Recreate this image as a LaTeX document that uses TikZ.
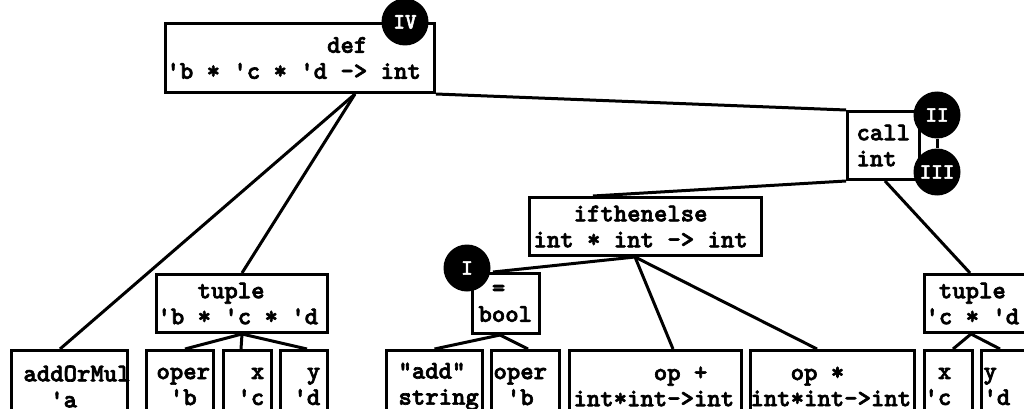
\documentclass[tikz,border=0pt]{standalone}
\usepackage{fontspec}
\usepackage{tikz}
\usetikzlibrary{calc}
\newfontfamily\codefont{lmmonolt10-bold}[Extension=.otf, BoldFont=lmmonolt10-bold, BoldFeatures={FakeBold=2.5}]
\newcommand{\sk}[1]{\hspace*{#1\fontdimen2\font}}
\newcommand{\q}{\textquotesingle}
\newcommand{\monosp}{\spaceskip=\fontdimen2\font\relax}
\tikzstyle{tbox} = [rectangle, draw=black, line width=3pt, anchor=north west, align=flush left, inner ysep=0pt, font=\codefont\bfseries\fontsize{25.5}{26}\selectfont, execute at begin node=\monosp]
\tikzstyle{numdot} = [circle, fill=black, text=white, minimum size=47pt, inner sep=0pt, font=\codefont\bfseries\fontsize{22}{24}\selectfont]
\tikzstyle{link} = [line width=3pt]

\begin{document}
\begin{tikzpicture}[x=1pt, y=-1pt]
	\useasboundingbox (0,0) rectangle (1024,409);
	% upper levels
	\node (def) [tbox, text width=267pt, inner xsep=1pt, minimum height=69pt] at (164,22) {\sk{12}def\\\q b * \q c * \q d -> int};
	\node (call) [tbox, text width=54pt, inner xsep=9pt, minimum height=68pt] at (846,110) {call\\int};
	\node (ifte) [tbox, text width=224pt, inner xsep=4pt, minimum height=58pt] at (528,196) {\sk{3}ifthenelse\\int * int -> int};
	\node (tupleL) [tbox, text width=169pt, inner xsep=1pt, minimum height=58pt] at (155,273) {\sk{3}tuple\\\q b * \q c * \q d};
	\node (eqbool) [tbox, text width=55pt, inner xsep=6pt, minimum height=60pt] at (471,272) {\sk{1}=\\bool};
	\node (tupleR) [tbox, text width=108pt, inner xsep=1pt, minimum height=58pt] at (923,273) {\sk{1}tuple\\\q c * \q d};
	% leaves
	\node (addOrMul) [tbox, text width=92pt, inner xsep=12pt, minimum height=72pt] at (10,349) {addOrMul\\\sk{2}\q a};
	\node (operL) [tbox, text width=47pt, inner xsep=10pt, minimum height=72pt] at (145,349) {oper\\\sk{1}\q b};
	\node (xL) [tbox, text width=20pt, inner xsep=14pt, minimum height=72pt] at (222,349) {\sk{1}x\\\q c};
	\node (yL) [tbox, text width=21pt, inner xsep=13pt, minimum height=72pt] at (279,349) {\sk{1}y\\\q d};
	\node (addstr) [tbox, text width=72pt, inner xsep=12pt, minimum height=72pt] at (385,349) {"add"\\string};
	\node (operM) [tbox, text width=64pt, inner xsep=2pt, minimum height=72pt] at (490,349) {oper\\\sk{1}\q b};
	\node (opplus) [tbox, text width=164pt, inner xsep=4pt, minimum height=72pt] at (568,349) {\sk{6}op +\\int*int->int};
	\node (optimes) [tbox, text width=164pt, inner xsep=0pt, minimum height=72pt] at (749,349) {\sk{3}op *\\int*int->int};
	\node (xR) [tbox, text width=48pt, inner xsep=0pt, minimum height=72pt] at (923,349) {\sk{1}x\\\q c};
	\node (yR) [tbox, text width=56pt, inner xsep=2pt, minimum height=72pt] at (980,349) {y\\\q d};
	% tree edges
	\draw [link] ($(def.south west)+(191,0)$) -- ($(addOrMul.north west)+(50,0)$);
	\draw [link] ($(def.south west)+(191,0)$) -- ($(tupleL.north west)+(87,0)$);
	\draw [link] (def.south east) -- (call.north west);
	\draw [link] (call.south west) -- ($(ifte.north west)+(65,0)$);
	\draw [link] ($(call.south west)+(39,0)$) -- ($(tupleR.north west)+(47,0)$);
	\draw [link] ($(ifte.south west)+(107,0)$) -- ($(eqbool.north west)+(22,0)$);
	\draw [link] ($(ifte.south west)+(107,0)$) -- ($(opplus.north west)+(105,0)$);
	\draw [link] ($(ifte.south west)+(107,0)$) -- ($(optimes.north west)+(68,0)$);
	\draw [link] ($(eqbool.south west)+(29,0)$) -- (addstr.north);
	\draw [link] ($(eqbool.south west)+(29,0)$) -- ($(operM.north west)+(38,0)$);
	\draw [link] (tupleL.south) -- ($(operL.north west)+(40,0)$);
	\draw [link] (tupleL.south) -- ($(xL.north west)+(19,0)$);
	\draw [link] (tupleL.south) -- ($(yL.north west)+(28,0)$);
	\draw [link] ($(tupleR.south west)+(48,0)$) -- ($(xR.north west)+(30,0)$);
	\draw [link] ($(tupleR.south west)+(48,0)$) -- ($(yR.north west)+(20,0)$);
	% step marks
	\node (IV) [numdot] at (405,22) {IV};
	\node (II) [numdot] at (937,115) {II};
	\node (III) [numdot] at (937,172) {III};
	\node (I) [numdot] at (467,268) {I};
	\draw [link] (II.south) -- (III.north);
\end{tikzpicture}
\end{document}
